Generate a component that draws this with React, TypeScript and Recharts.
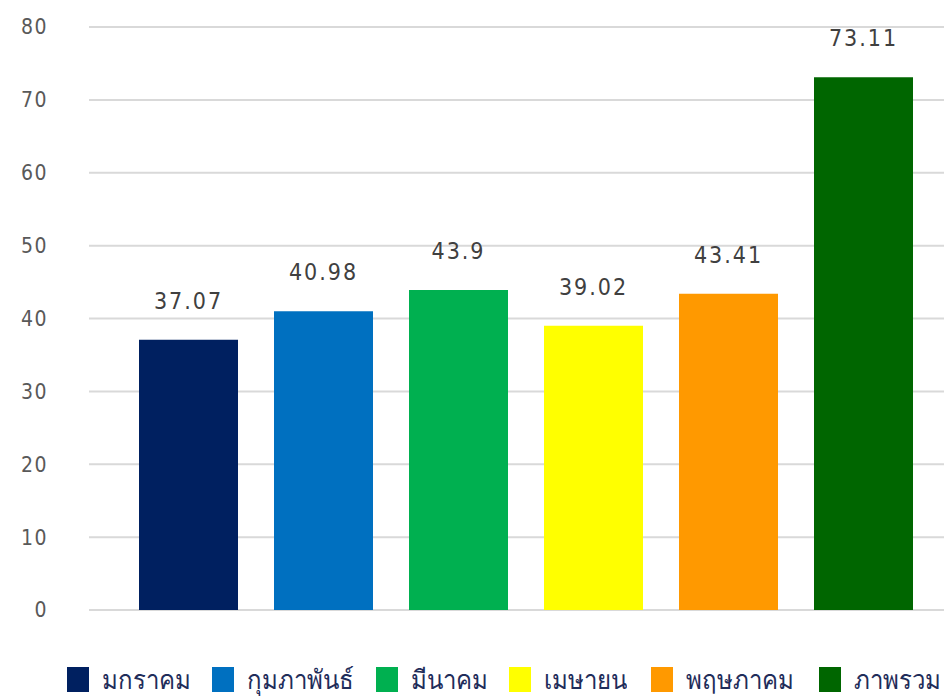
import React from "react";
import { BarChart, Bar, XAxis, YAxis, CartesianGrid, Cell, LabelList } from "recharts";

const months = ["มกราคม", "กุมภาพันธ์", "มีนาคม", "เมษายน", "พฤษภาคม", "ภาพรวม"];
const values = [37.07, 40.98, 43.9, 39.02, 43.41, 73.11];
const colors = ["#002060", "#0070C0", "#00B050", "#FFFF00", "#FF9900", "#006600"];
const yTicks = [0, 10, 20, 30, 40, 50, 60, 70, 80];
const legendX = [67, 212, 376, 509, 651, 819];

const data = months.map((m, i) => ({ name: m, value: values[i] }));

const numFont = "'DejaVu Sans Condensed', 'DejaVu Sans', sans-serif";

export default function App() {
  return (
    <div style={{ position: "absolute", left: 0, top: 0, width: 944, height: 699, background: "#fff", overflow: "hidden" }}>
      <BarChart width={944} height={699} data={data} margin={{ top: 27, right: 0, bottom: 89, left: 0 }} barSize={99}>
        <CartesianGrid vertical={false} stroke="#d9d9d9" strokeWidth={2} />
        <XAxis dataKey="name" hide padding={{ left: 32, right: 13 }} />
        <YAxis
          width={89}
          domain={[0, 80]}
          ticks={yTicks}
          axisLine={false}
          tickLine={false}
          tickMargin={35}
          tick={{ fontSize: 21, fill: "#595959", fontFamily: numFont, letterSpacing: 1.5 }}
        />
        <Bar dataKey="value" isAnimationActive={false}>
          {data.map((d, i) => (
            <Cell key={d.name} fill={colors[i]} />
          ))}
          <LabelList dataKey="value" position="top" offset={31} style={{ fontSize: 23, fill: "#404040", fontFamily: numFont, letterSpacing: 2 }} />
        </Bar>
      </BarChart>
      {months.map((m, i) => (
        <div key={m} style={{ position: "absolute", left: legendX[i], top: 664, height: 30, display: "flex", alignItems: "center", whiteSpace: "nowrap" }}>
          <span style={{ width: 22, height: 25, background: colors[i], display: "inline-block", marginRight: 13 }} />
          <span style={{ fontSize: 24, color: "#1f2d5a", fontFamily: "'Noto Sans', sans-serif", lineHeight: "28px", display: "inline-block", transform: "scaleY(1.1)" }}>{m}</span>
        </div>
      ))}
    </div>
  );
}
